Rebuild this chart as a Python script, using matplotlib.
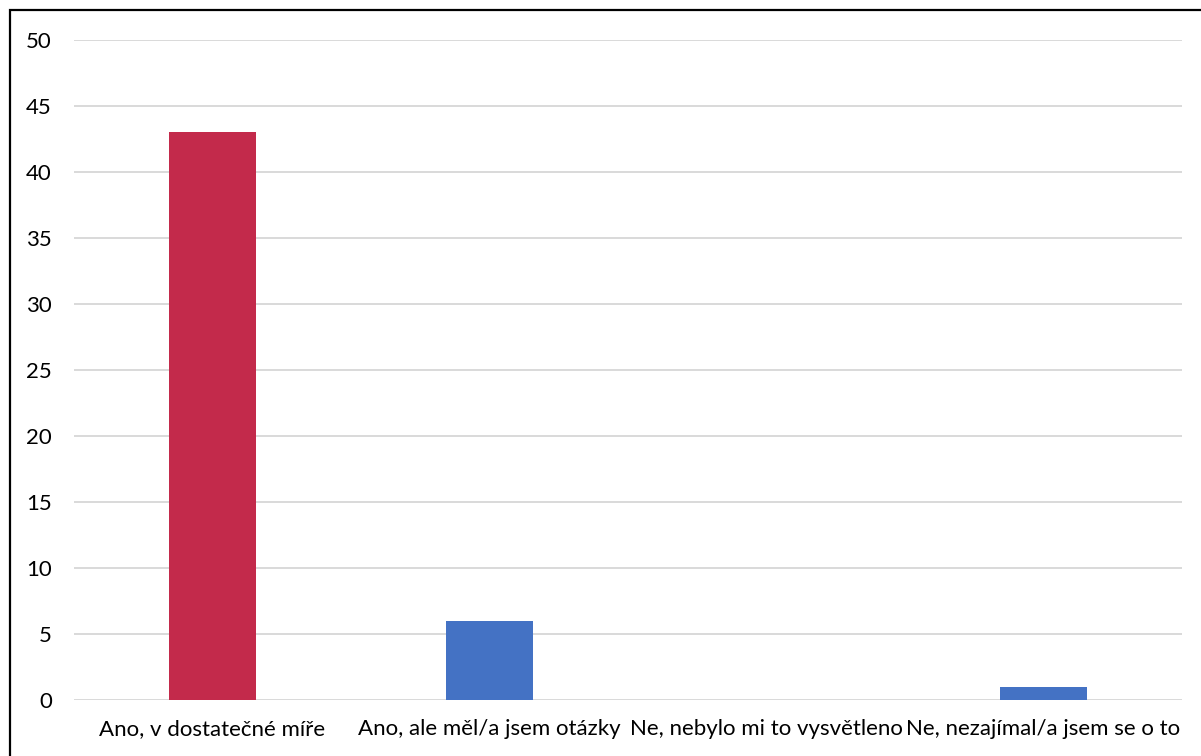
import matplotlib.pyplot as plt
from matplotlib.patches import Rectangle

categories = ['Ano, v dostatečné míře', 'Ano, ale měl/a jsem otázky',
              'Ne, nebylo mi to vysvětleno', 'Ne, nezajímal/a jsem se o to']
counts = [43, 6, 0, 1]
bar_colors = ['#C32A4B', '#4472C4', '#4472C4', '#4472C4']
yticks = list(range(0, 51, 5))

plt.rcParams['font.family'] = ['Lato', 'DejaVu Sans']

fig = plt.figure(figsize=(12.01, 7.56), dpi=100)
ax = fig.add_axes([74 / 1201, 1 - 700 / 756, 1108 / 1201, 660 / 756])

ax.bar(range(len(categories)), counts, width=0.314, color=bar_colors, zorder=3)
ax.set_xlim(-0.5, len(categories) - 0.5)
ax.set_ylim(0, 50)
ax.set_yticks(yticks)
ax.set_xticks(range(len(categories)))
ax.set_xticklabels(categories)

ax.grid(axis='y', color='#D9D9D9', linewidth=1.4, zorder=0)
ax.tick_params(axis='both', length=0, labelsize=16, colors='black')
ax.tick_params(axis='x', pad=14)
ax.tick_params(axis='y', pad=16)
for s in ax.spines.values():
    s.set_visible(False)

# chart frame (only left and top edges end up inside the image)
fig.patches.append(Rectangle((9.5 / 1201, -0.1), 1.2, 1 - 10.5 / 756 + 0.1,
                             transform=fig.transFigure, fill=False,
                             edgecolor='black', linewidth=1.6))

plt.savefig('out.png', dpi=100)
